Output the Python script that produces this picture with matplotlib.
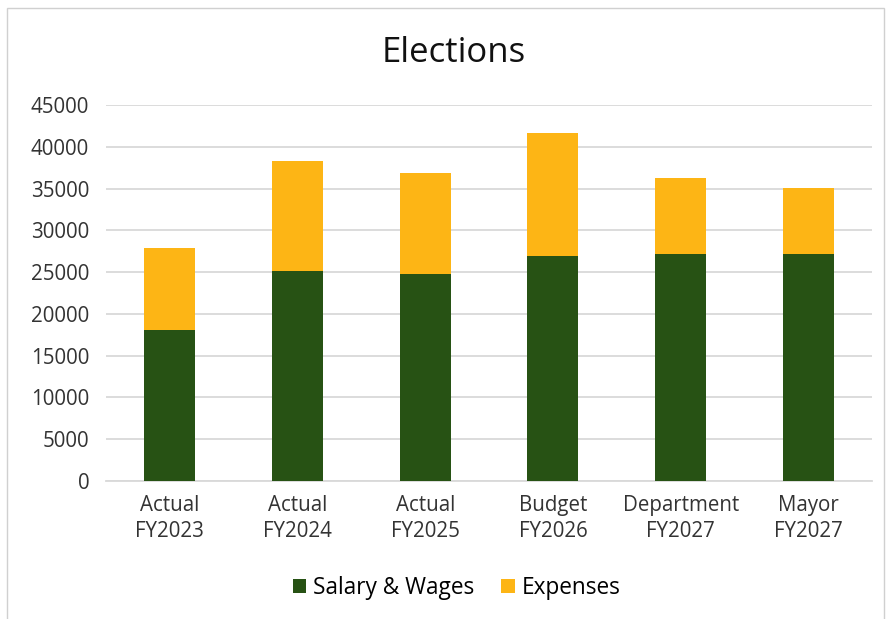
import matplotlib.pyplot as plt
import numpy as np
from matplotlib.patches import Rectangle

plt.rcParams['font.family'] = ['Open Sans', 'DejaVu Sans']

# Данные по годам
categories = ['Actual\nFY2023', 'Actual\nFY2024', 'Actual\nFY2025',
              'Budget\nFY2026', 'Department\nFY2027', 'Mayor\nFY2027']
salary = [18080, 25200, 24760, 27000, 27240, 27240]
expenses_total = [27850, 38290, 36920, 41680, 36250, 35080]
expenses = [t - s for t, s in zip(expenses_total, salary)]

fig = plt.figure(figsize=(8.9, 6.19), dpi=100)
ax = fig.add_axes([0.119, 0.223, 0.861, 0.607])

x = np.arange(len(categories))
ax.bar(x, salary, width=0.4, color='#275214', label='Salary & Wages', zorder=3)
ax.bar(x, expenses, width=0.4, bottom=salary, color='#FDB515', label='Expenses', zorder=3)

ax.set_xlim(-0.5, len(categories) - 0.5)
ax.set_ylim(0, 45000)
ax.set_yticks(np.arange(0, 45001, 5000))
ax.set_xticks(x)
ax.set_xticklabels(categories, fontsize=14.8, color='#333333', linespacing=1.35)
ax.tick_params(axis='y', labelsize=14.8, labelcolor='#333333', length=0, pad=12)
ax.tick_params(axis='x', length=0, pad=10)
ax.grid(axis='y', color='#d9d9d9', linewidth=1.3, zorder=0)
for s in ['top', 'right', 'left']:
    ax.spines[s].set_visible(False)
ax.spines['bottom'].set_color('#d9d9d9')
ax.spines['bottom'].set_linewidth(1.3)

fig.text(0.51, 0.915, 'Elections', ha='center', va='center', fontsize=25, color='#111111')

fig.legend(loc='center', bbox_to_anchor=(0.513, 0.05), ncol=2, frameon=False,
           fontsize=16.3, handlelength=0.6, handleheight=0.6, columnspacing=1.2,
           handletextpad=0.3)

# Рамка вокруг диаграммы
fig.patches.append(Rectangle((0.008, -0.01), 0.985, 0.997, transform=fig.transFigure,
                             fill=False, edgecolor='#d0d0d0', linewidth=1))

fig.savefig('out.png', dpi=100)
